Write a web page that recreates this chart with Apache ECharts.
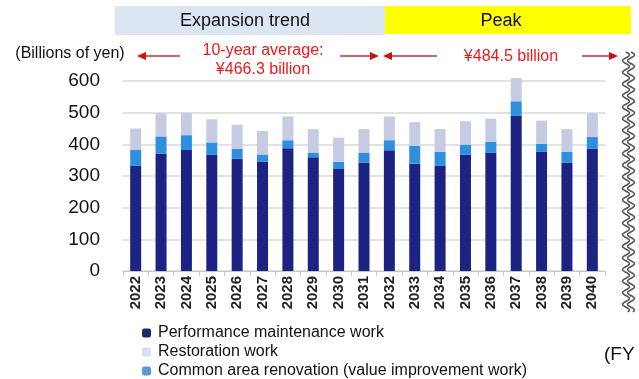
<!DOCTYPE html>
<html><head><meta charset="utf-8">
<script src="https://cdn.jsdelivr.net/npm/echarts@6/dist/echarts.min.js"></script>
<style>html,body{margin:0;padding:0;background:#fff}#c{width:639px;height:379px}</style>
</head><body><div id="c"></div>
<script>
const years = ['2022','2023','2024','2025','2026','2027','2028','2029','2030','2031','2032','2033','2034','2035','2036','2037','2038','2039','2040'];
const performance = [332,370,382,368,354,345,388,359,322,343,381,339,333,367,374,490,376,343,385];
const commonArea = [50,55,47,38,32,23,25,15,23,31,32,56,43,32,34,46,26,33,38];
const restoration = [68,73,71,73,76,74,75,74,76,74,75,75,72,74,73,73,73,72,75];
const yTicks = [0,100,200,300,400,500,600];

const F = 'Liberation Sans, Arial, sans-serif';
const chart = echarts.init(document.getElementById('c'));

const S_PERF = 'Performance maintenance work';
const S_REST = 'Restoration work';
const S_COMM = 'Common area renovation (value improvement work)';

// wavy break line decoration
function wave(x0) {
  const pts = [];
  for (let y = 52; y <= 312; y += 1) {
    pts.push([x0 + 3.5 * Math.sin((y - 52) / 11.6 * 2 * Math.PI), y]);
  }
  return pts;
}
const red = '#f01818';
function arrowHead(x, y, dir) {
  return { type: 'polygon', shape: { points: [[x, y], [x - dir * 9, y - 4], [x - dir * 9, y + 4]] }, style: { fill: '#d01010' } };
}
function hline(x1, x2, y) {
  return { type: 'line', shape: { x1: x1, y1: y, x2: x2, y2: y }, style: { stroke: '#c83030', lineWidth: 1.5 } };
}
function legendItem(name, color, top) {
  return {
    orient: 'vertical', left: 142, top: top, itemWidth: 9, itemHeight: 9, padding: 0,
    textStyle: { fontFamily: F, fontSize: 16, color: '#111', padding: [0, 0, 0, 2] },
    data: [{ name: name, itemStyle: { color: color } }]
  };
}

chart.setOption({
  animation: false,
  grid: { left: 123, right: 34, top: 81, bottom: 108 },
  legend: [
    legendItem(S_PERF, '#1b2a6b', 325),
    legendItem(S_REST, '#dcdcf4', 344),
    legendItem(S_COMM, '#5b9bd5', 363)
  ],
  xAxis: {
    type: 'category', data: years,
    axisLine: { lineStyle: { color: '#c8c8c8' } },
    axisTick: { show: true, lineStyle: { color: '#c8c8c8' } },
    axisLabel: { rotate: 90, fontFamily: F, fontSize: 15, fontWeight: 'bold', color: '#222', margin: 5 }
  },
  yAxis: {
    type: 'value', min: 0, max: 600, interval: 100,
    axisLine: { show: false }, axisTick: { show: false },
    splitLine: { lineStyle: { color: '#d9d9d9', width: 1.5 } },
    axisLabel: { fontFamily: F, fontSize: 19, color: '#111', margin: 23,
      formatter: v => yTicks.includes(v) ? String(v) : '' }
  },
  series: [
    { name: S_PERF, type: 'bar', stack: 's', clip: false, data: performance, barWidth: 11, itemStyle: { color: '#1d2382' } },
    { name: S_COMM, type: 'bar', stack: 's', clip: false, data: commonArea, barWidth: 11, itemStyle: { color: '#2f8fdf' } },
    { name: S_REST, type: 'bar', stack: 's', clip: false, data: restoration, barWidth: 11, itemStyle: { color: '#c6cbe3' } }
  ],
  graphic: [
    { type: 'rect', shape: { x: 115, y: 6, width: 270, height: 29 }, style: { fill: '#dce6f2' } },
    { type: 'rect', shape: { x: 385, y: 6, width: 246, height: 28 }, style: { fill: '#ffff00' } },
    { type: 'text', style: { x: 245, y: 21, text: 'Expansion trend', fontFamily: F, fontSize: 18, fill: '#111', textAlign: 'center', textVerticalAlign: 'middle' } },
    { type: 'text', style: { x: 501, y: 21, text: 'Peak', fontFamily: F, fontSize: 18, fill: '#111', textAlign: 'center', textVerticalAlign: 'middle' } },
    { type: 'text', style: { x: 70, y: 54, text: '(Billions of yen)', fontFamily: F, fontSize: 16, fill: '#111', textAlign: 'center', textVerticalAlign: 'middle' } },
    { type: 'text', style: { x: 263, y: 51, text: '10-year average:', fontFamily: F, fontSize: 16, fill: red, textAlign: 'center', textVerticalAlign: 'middle' } },
    { type: 'text', style: { x: 263, y: 70, text: '¥466.3 billion', fontFamily: F, fontSize: 16, fill: red, textAlign: 'center', textVerticalAlign: 'middle' } },
    { type: 'text', style: { x: 511, y: 57, text: '¥484.5 billion', fontFamily: F, fontSize: 16, fill: red, textAlign: 'center', textVerticalAlign: 'middle' } },
    hline(140, 180, 56), arrowHead(137, 56, -1),
    hline(340, 372, 56), arrowHead(379, 56, 1),
    hline(390, 437, 56), arrowHead(383, 56, -1),
    hline(582, 612, 56), arrowHead(618, 56, 1),
    { type: 'polyline', shape: { points: wave(626) }, style: { stroke: '#555', lineWidth: 1.5, fill: null } },
    { type: 'polyline', shape: { points: wave(631) }, style: { stroke: '#555', lineWidth: 1.5, fill: null } },
    { type: 'text', style: { x: 604, y: 355, text: '(FY', fontFamily: F, fontSize: 19, fill: '#111', textAlign: 'left', textVerticalAlign: 'middle' } }
  ]
});
</script></body></html>
